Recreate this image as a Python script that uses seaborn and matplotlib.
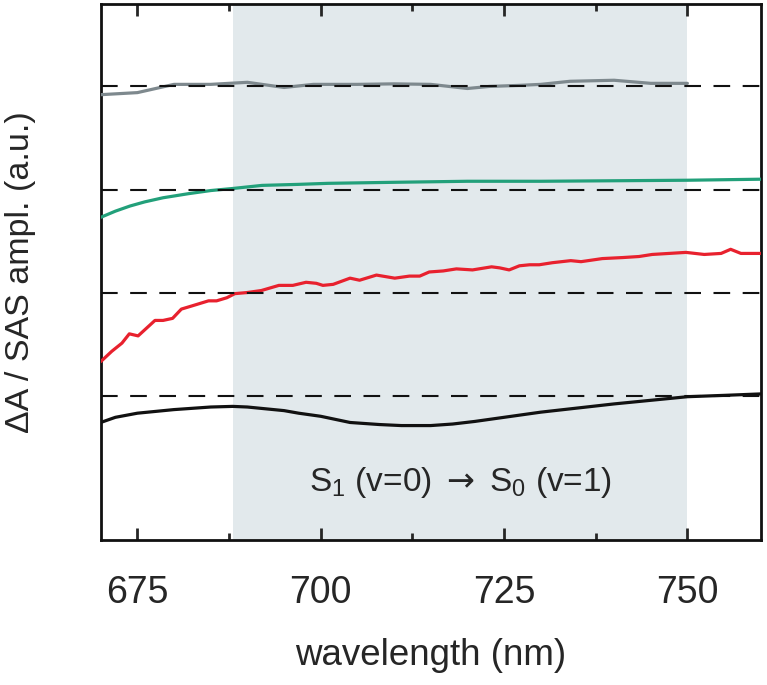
import matplotlib
matplotlib.use("Agg")
import matplotlib.pyplot as plt
import seaborn as sns
import numpy as np
import pandas as pd
from matplotlib.ticker import MultipleLocator

# ---------------- data ----------------
black_wl = [670, 672, 675, 680, 685, 688, 690, 695, 697, 700, 704, 708, 711, 715, 718, 721, 724, 727, 730, 735, 740, 745, 750, 755, 760]
black_val = [-0.26, -0.21, -0.17, -0.135, -0.11, -0.104, -0.11, -0.145, -0.17, -0.20, -0.26, -0.28, -0.29, -0.29, -0.275, -0.25, -0.22, -0.19, -0.16, -0.12, -0.08, -0.045, -0.01, 0.003, 0.017]

red_wl = [670, 671.5, 672.9, 673.9, 675.1, 677.4, 678.5, 679.8, 681, 682.4, 684.7, 685.8, 687.2, 688.3, 689.9,
          691.9, 694.3, 696.2, 698, 699.4, 700.3, 701.7, 704, 705.3, 707.6, 710.1, 712.1, 713.5, 714.8,
          716.7, 718.5, 720.7, 723.3, 724.4, 725.7, 727.1, 728.5, 729.8, 731.6, 734.1, 735.5, 738.4,
          741.2, 743.4, 745.2, 747.5, 749.8, 752.3, 754.6, 755.9, 757.3, 760]
red_val = [0.33, 0.43, 0.51, 0.60, 0.58, 0.73, 0.73, 0.75, 0.84, 0.87, 0.92, 0.92, 0.95, 0.99, 1.00,
           1.02, 1.07, 1.07, 1.10, 1.09, 1.07, 1.08, 1.14, 1.12, 1.17, 1.14, 1.16, 1.16, 1.20,
           1.21, 1.23, 1.22, 1.25, 1.24, 1.22, 1.26, 1.27, 1.27, 1.29, 1.31, 1.30, 1.33,
           1.34, 1.35, 1.37, 1.38, 1.39, 1.37, 1.38, 1.42, 1.38, 1.38]

green_wl = [670, 672, 674, 676, 678.5, 682, 685, 688, 692, 697, 701, 710, 720, 730, 740, 750, 760]
green_val = [1.73, 1.79, 1.84, 1.88, 1.92, 1.96, 1.99, 2.01, 2.04, 2.05, 2.06, 2.07, 2.08, 2.08, 2.085, 2.09, 2.10]

gray_wl = [670, 675, 680, 685, 690, 695, 699, 705, 710, 715, 720, 723, 727, 730, 734, 740, 745, 750]
gray_val = [2.92, 2.94, 3.02, 3.02, 3.04, 2.99, 3.02, 3.02, 3.025, 3.02, 2.98, 3.00, 3.01, 3.02, 3.05, 3.06, 3.03, 3.03]

baselines = [0, 1, 2, 3]
shade_range = (688, 750)
x_ticks = [675, 700, 725, 750]
annotation = r"S$_1$ (v=0) $\mathsf{\rightarrow}$ S$_0$ (v=1)"

# ---------------- style ----------------
sns.set_style("ticks")
plt.rcParams["font.family"] = ["Liberation Sans", "DejaVu Sans"]
plt.rcParams["mathtext.fontset"] = "custom"
plt.rcParams["mathtext.rm"] = "Liberation Sans"
plt.rcParams["mathtext.it"] = "Liberation Sans"
plt.rcParams["mathtext.sf"] = "DejaVu Sans"
plt.rcParams["mathtext.default"] = "regular"

fig = plt.figure(figsize=(7.67, 6.85), dpi=100)
ax = fig.add_axes([0.1313, 0.2117, 0.8605, 0.7825])

ax.axvspan(*shade_range, color="#e2e9ec", lw=0, zorder=0)

series = [
    (black_wl, black_val, "#111111"),
    (red_wl, red_val, "#e8212e"),
    (green_wl, green_val, "#22a07a"),
    (gray_wl, gray_val, "#7e898e"),
]
for wl, val, col in series:
    df = pd.DataFrame({"wavelength": wl, "value": val})
    sns.lineplot(data=df, x="wavelength", y="value", color=col, lw=2.3, ax=ax, zorder=3)

for b in baselines:
    ax.axhline(b, color="#111111", lw=1.5, linestyle=(0, (8, 6)), zorder=4)

ax.text(719, -0.84, annotation, ha="center", va="center", fontsize=24)

ax.set_xlim(670, 760)
ax.set_ylim(-1.4, 3.8)
ax.set_xticks(x_ticks)
ax.xaxis.set_minor_locator(MultipleLocator(12.5))
ax.set_yticks([])

ax.tick_params(axis="x", which="major", direction="in", length=8.5, width=2, top=True,
               labelsize=27, pad=25)
ax.tick_params(axis="x", which="minor", direction="in", length=5, width=2, top=True)
ax.tick_params(axis="y", left=False, labelleft=False)

for s in ax.spines.values():
    s.set_linewidth(2)
    s.set_color("#111111")
    s.set_visible(True)

ax.set_xlabel("wavelength (nm)", fontsize=26.5, labelpad=20)
ax.set_ylabel("\u0394A / SAS ampl. (a.u.)", fontsize=24.5)
ax.yaxis.set_label_coords(-0.098, 0.5)

fig.savefig("out.png", dpi=100)
